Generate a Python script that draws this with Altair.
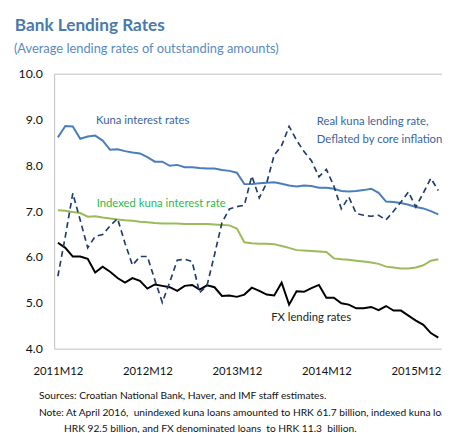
import altair as alt
import pandas as pd

# ---- data -------------------------------------------------------------
months = ["2011M12"] + [f"{y}M{m}" for y in (2012, 2013, 2014, 2015) for m in range(1, 13)] + ["2016M1", "2016M2", "2016M3"]
tick_labels = ["2011M12", "2012M12", "2013M12", "2014M12", "2015M12"]

kuna = [8.61, 8.86, 8.85, 8.58, 8.63, 8.65, 8.54, 8.34, 8.35, 8.31,
        8.28, 8.26, 8.18, 8.08, 8.08, 7.99, 8.01, 7.96, 7.96, 7.94,
        7.93, 7.93, 7.90, 7.88, 7.84, 7.59, 7.59, 7.61, 7.62, 7.63,
        7.60, 7.56, 7.54, 7.56, 7.55, 7.51, 7.51, 7.49, 7.44, 7.43,
        7.44, 7.46, 7.49, 7.40, 7.21, 7.20, 7.18, 7.14, 7.09, 7.06,
        7.00, 6.93]
indexed = [7.02, 7.01, 6.98, 6.96, 6.88, 6.89, 6.86, 6.84, 6.82, 6.80,
           6.79, 6.77, 6.76, 6.74, 6.73, 6.73, 6.73, 6.72, 6.72, 6.72,
           6.72, 6.71, 6.70, 6.69, 6.62, 6.32, 6.30, 6.29, 6.29, 6.28,
           6.24, 6.20, 6.15, 6.14, 6.13, 6.12, 6.11, 5.97, 5.95, 5.94,
           5.92, 5.90, 5.88, 5.85, 5.79, 5.77, 5.75, 5.75, 5.77, 5.82,
           5.92, 5.95]
fx = [6.31, 6.20, 6.01, 6.01, 5.96, 5.66, 5.79, 5.68, 5.54, 5.44,
      5.54, 5.48, 5.31, 5.40, 5.37, 5.34, 5.26, 5.37, 5.39, 5.29,
      5.38, 5.34, 5.15, 5.16, 5.13, 5.18, 5.33, 5.26, 5.18, 5.16,
      5.44, 4.96, 5.25, 5.24, 5.32, 5.39, 5.11, 5.11, 4.99, 4.96,
      4.88, 4.88, 4.91, 4.84, 4.93, 4.83, 4.83, 4.72, 4.61, 4.52,
      4.34, 4.24]
real = [5.58, 6.45, 7.39, 6.80, 6.20, 6.45, 6.49, 6.68, 6.84, 6.30,
        5.82, 6.01, 6.01, 5.50, 5.01, 5.45, 5.93, 5.95, 5.90, 5.22,
        5.38, 6.05, 6.75, 7.05, 7.10, 7.13, 7.77, 7.29, 7.62, 8.22,
        8.43, 8.85, 8.55, 8.30, 8.10, 7.75, 7.91, 7.55, 7.05, 7.31,
        6.95, 6.91, 6.89, 6.91, 6.81, 7.00, 7.20, 7.42, 7.09, 7.40,
        7.72, 7.45]

df = pd.DataFrame({"month": months, "kuna": kuna, "indexed": indexed, "fx": fx, "real": real})

FONT = "Lato"

x_enc = alt.X("month:O", sort=None,
              scale=alt.Scale(type="point", padding=0.5),
              axis=alt.Axis(values=tick_labels, labelAngle=0, ticks=False, tickSize=0,
                            domain=False, grid=False, title=None, labelFont=FONT,
                            labelFontSize=11.5, labelColor="#111111", labelPadding=17))


def y_enc(field):
    return alt.Y(f"{field}:Q",
                 scale=alt.Scale(domain=[4, 10], nice=False, zero=False),
                 axis=alt.Axis(values=[4, 5, 6, 7, 8, 9, 10], format=".1f", ticks=False,
                               tickSize=0, domain=False, grid=False, title=None,
                               labelFont=FONT, labelFontSize=12.5, labelColor="#111111",
                               labelPadding=12))


base = alt.Chart(df)
l_indexed = base.mark_line(color="#9bbb59", strokeWidth=2).encode(x=x_enc, y=y_enc("indexed"))
l_fx = base.mark_line(color="#000000", strokeWidth=2).encode(x=x_enc, y=y_enc("fx"))
l_kuna = base.mark_line(color="#4a7ebb", strokeWidth=2).encode(x=x_enc, y=y_enc("kuna"))
l_real = base.mark_line(color="#1f3c6e", strokeWidth=1.7, strokeDash=[6, 4]).encode(x=x_enc, y=y_enc("real"))


def note(text, x, y, size=11.5, color="#000000", weight="normal", font=FONT):
    return alt.Chart(pd.DataFrame({"t": [text]})).mark_text(
        align="left", baseline="alphabetic", font=font, fontSize=size,
        color=color, fontWeight=weight
    ).encode(x=alt.value(x), y=alt.value(y), text="t:N")


texts = [
    note("Bank Lending Rates", -40, -43.5, size=17.5, color="#4a7aab", weight="bold"),
    note("(Average lending rates of outstanding amounts)", -41, -21, size=13.1, color="#5b8ac0"),
    note("Kuna interest rates", 42.7, 51, color="#3a64a0"),
    note("Real kuna lending rate,", 267.5, 52, color="#3a64a0"),
    note("Deflated by core inflation", 267.5, 70.5, color="#3a64a0"),
    note("Indexed kuna interest rate", 43.3, 136, color="#2db84d"),
    note("FX lending rates", 221, 252, color="#222222"),
    note("Sources: Croatian National Bank, Haver, and IMF staff estimates.", -15.5, 331.5, size=10.4, color="#111111"),
    note("Note: At April 2016,\u00a0 unindexed kuna loans amounted to HRK 61.7 billion, indexed kuna loans to", -15.5, 349, size=10.4, color="#111111"),
    note("HRK 92.5 billion, and FX denominated loans\u00a0 to HRK 11.3\u00a0 billion.", 10, 364.5, size=10.4, color="#111111"),
]

chart = alt.layer(l_indexed, l_fx, l_kuna, l_real, *texts).properties(
    width=395, height=280,
    autosize=alt.AutoSizeParams(type="none"),
    padding={"left": 47, "top": 63, "right": 0, "bottom": 82},
    background="white",
).configure_view(stroke="#bfbfbf", strokeWidth=1)

chart.save("out.html", embed_options={"renderer": "svg", "actions": False})
